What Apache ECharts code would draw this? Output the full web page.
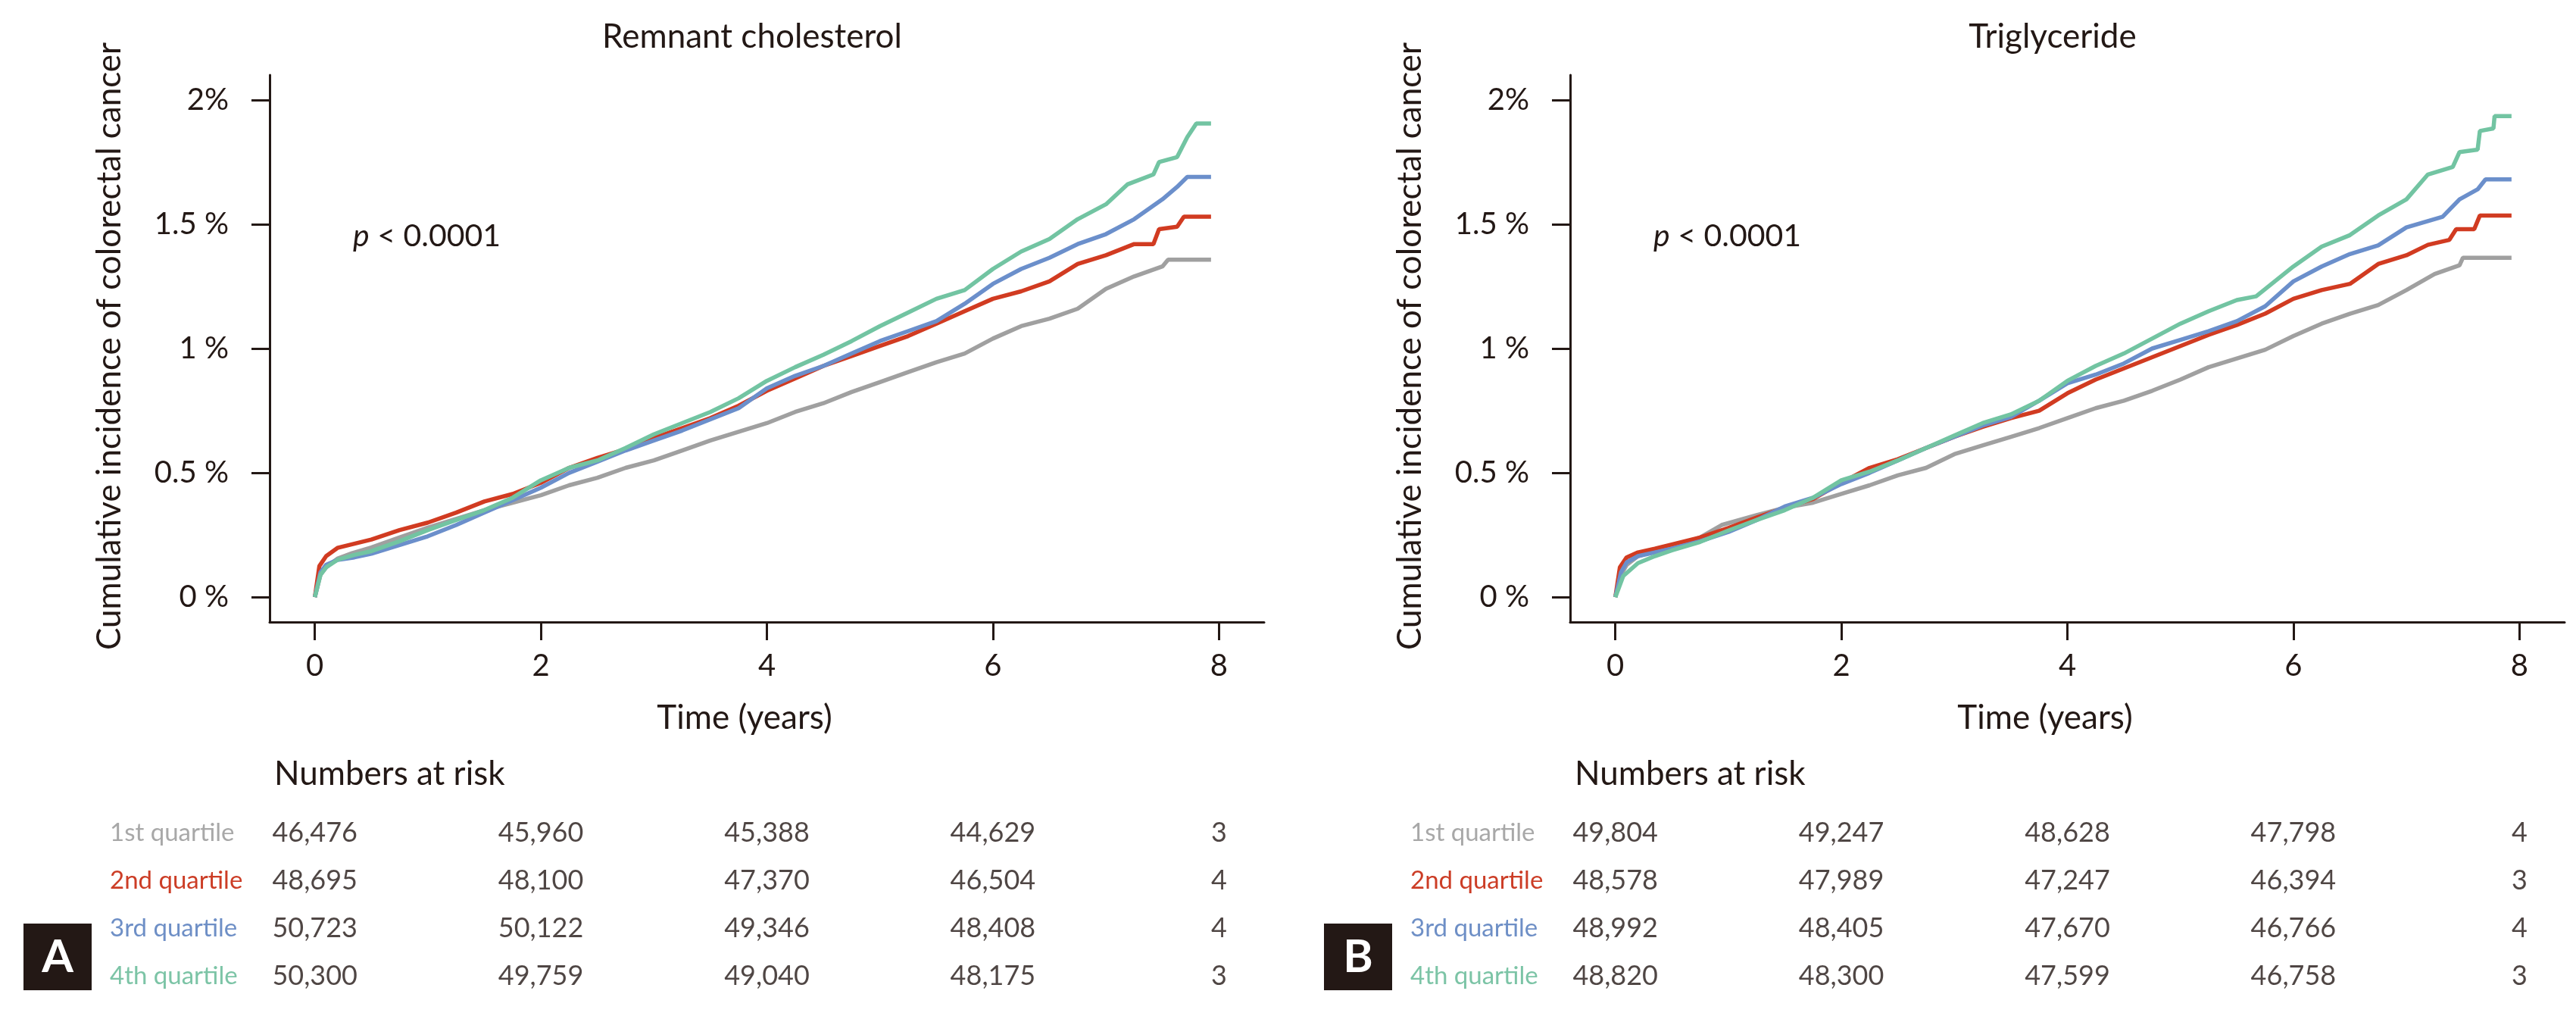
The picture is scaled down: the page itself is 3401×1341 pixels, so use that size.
<!DOCTYPE html>
<html>
<head>
<meta charset="utf-8">
<script src="https://cdn.jsdelivr.net/npm/echarts@6.0.0/dist/echarts.min.js"></script>
<style>
  html, body { margin: 0; padding: 0; background: #fff; }
  #main { width: 3401px; height: 1341px; }
</style>
</head>
<body>
<div id="main"></div>
<script type="text/javascript">
// quartile names, follow-up years of the risk table and axis ticks
var quartiles = ['1st quartile', '2nd quartile', '3rd quartile', '4th quartile'];
var riskTimes = [0, 2, 4, 6, 8];
var yTicks = [0, 0.5, 1, 1.5, 2];
var xTicks = [0, 2, 4, 6, 8];

// cumulative incidence (%) (remnant cholesterol)
var remQ1 = [[0,0],[0.05,0.09],[0.1,0.12],[0.2,0.155],[0.33,0.177],[0.5,0.2],[0.75,0.24],[1,0.28],[1.25,0.315],[1.5,0.35],[1.75,0.38],[2,0.41],[2.25,0.45],[2.5,0.48],[2.75,0.52],[3,0.55],[3.25,0.59],[3.5,0.63],[3.75,0.665],[4,0.7],[4.25,0.745],[4.5,0.78],[4.75,0.825],[5,0.865],[5.25,0.905],[5.5,0.945],[5.75,0.98],[6,1.04],[6.25,1.09],[6.5,1.12],[6.75,1.16],[7,1.24],[7.25,1.29],[7.5,1.33],[7.55,1.357],[7.93,1.357]];
var remQ2 = [[0,0],[0.04,0.125],[0.1,0.165],[0.2,0.198],[0.35,0.215],[0.5,0.232],[0.75,0.27],[1,0.3],[1.25,0.34],[1.5,0.385],[1.75,0.415],[2,0.46],[2.25,0.52],[2.5,0.56],[2.75,0.595],[3,0.64],[3.25,0.68],[3.5,0.72],[3.75,0.77],[4,0.83],[4.25,0.88],[4.5,0.93],[4.75,0.97],[5,1.01],[5.25,1.05],[5.5,1.1],[5.75,1.15],[6,1.2],[6.25,1.23],[6.5,1.27],[6.75,1.34],[7,1.375],[7.25,1.42],[7.42,1.42],[7.47,1.48],[7.63,1.49],[7.69,1.53],[7.93,1.53]];
var remQ3 = [[0,0],[0.05,0.1],[0.1,0.13],[0.2,0.15],[0.35,0.16],[0.5,0.175],[0.75,0.21],[1,0.245],[1.25,0.29],[1.5,0.34],[1.75,0.39],[2,0.44],[2.25,0.5],[2.5,0.545],[2.75,0.59],[3,0.63],[3.25,0.67],[3.5,0.715],[3.75,0.76],[4,0.84],[4.25,0.89],[4.5,0.93],[4.75,0.98],[5,1.03],[5.25,1.07],[5.5,1.11],[5.75,1.18],[6,1.26],[6.25,1.32],[6.5,1.365],[6.75,1.42],[7,1.46],[7.25,1.52],[7.5,1.6],[7.63,1.65],[7.72,1.69],[7.93,1.69]];
var remQ4 = [[0,0],[0.05,0.09],[0.1,0.12],[0.2,0.15],[0.35,0.17],[0.5,0.185],[0.75,0.225],[1,0.27],[1.25,0.31],[1.5,0.35],[1.75,0.4],[2,0.47],[2.25,0.52],[2.5,0.55],[2.75,0.6],[3,0.655],[3.25,0.7],[3.5,0.745],[3.75,0.8],[4,0.87],[4.25,0.925],[4.5,0.975],[4.75,1.03],[5,1.09],[5.25,1.145],[5.5,1.2],[5.75,1.235],[6,1.32],[6.25,1.39],[6.5,1.44],[6.75,1.52],[7,1.58],[7.19,1.66],[7.42,1.7],[7.47,1.75],[7.63,1.77],[7.72,1.85],[7.8,1.905],[7.93,1.905]];

// cumulative incidence (%) (triglyceride)
var triQ1 = [[0,0],[0.05,0.09],[0.1,0.13],[0.2,0.165],[0.35,0.185],[0.5,0.2],[0.75,0.24],[0.94,0.29],[1.25,0.33],[1.5,0.36],[1.75,0.38],[2,0.415],[2.25,0.45],[2.5,0.49],[2.75,0.52],[3,0.575],[3.25,0.61],[3.5,0.645],[3.75,0.68],[4,0.72],[4.25,0.76],[4.5,0.79],[4.75,0.83],[5,0.875],[5.25,0.925],[5.5,0.96],[5.75,0.995],[6,1.05],[6.25,1.1],[6.5,1.14],[6.75,1.175],[7,1.235],[7.25,1.3],[7.47,1.335],[7.5,1.365],[7.93,1.365]];
var triQ2 = [[0,0],[0.04,0.12],[0.1,0.16],[0.2,0.18],[0.35,0.195],[0.5,0.212],[0.75,0.24],[1,0.278],[1.25,0.32],[1.5,0.36],[1.75,0.395],[2,0.46],[2.25,0.52],[2.5,0.555],[2.75,0.6],[3,0.645],[3.25,0.685],[3.5,0.72],[3.75,0.75],[4,0.82],[4.25,0.875],[4.5,0.92],[4.75,0.965],[5,1.01],[5.25,1.055],[5.5,1.095],[5.75,1.14],[6,1.2],[6.25,1.235],[6.5,1.26],[6.75,1.34],[7,1.375],[7.19,1.417],[7.38,1.437],[7.44,1.48],[7.6,1.48],[7.65,1.535],[7.93,1.535]];
var triQ3 = [[0,0],[0.05,0.1],[0.1,0.14],[0.2,0.165],[0.35,0.18],[0.5,0.195],[0.75,0.225],[1,0.262],[1.25,0.31],[1.5,0.365],[1.75,0.4],[2,0.455],[2.25,0.5],[2.5,0.55],[2.75,0.6],[3,0.645],[3.25,0.69],[3.5,0.725],[3.75,0.79],[4,0.86],[4.25,0.895],[4.5,0.94],[4.75,1],[5,1.035],[5.25,1.07],[5.5,1.11],[5.75,1.17],[6,1.27],[6.25,1.33],[6.5,1.38],[6.75,1.415],[7,1.487],[7.32,1.53],[7.47,1.6],[7.63,1.64],[7.7,1.68],[7.93,1.68]];
var triQ4 = [[0,0],[0.07,0.085],[0.2,0.137],[0.35,0.165],[0.5,0.188],[0.75,0.222],[1,0.268],[1.25,0.31],[1.5,0.35],[1.75,0.4],[2,0.47],[2.25,0.505],[2.5,0.55],[2.75,0.6],[3,0.65],[3.25,0.7],[3.5,0.735],[3.75,0.79],[4,0.87],[4.25,0.93],[4.5,0.98],[4.75,1.04],[5,1.1],[5.25,1.15],[5.5,1.195],[5.67,1.21],[6,1.33],[6.25,1.41],[6.5,1.456],[6.75,1.535],[7,1.6],[7.19,1.7],[7.41,1.73],[7.47,1.79],[7.63,1.8],[7.65,1.875],[7.77,1.885],[7.78,1.935],[7.93,1.935]];

// numbers at risk at 0, 2, 4, 6, 8 years
var riskRem = [
  [46476, 45960, 45388, 44629, 3],
  [48695, 48100, 47370, 46504, 4],
  [50723, 50122, 49346, 48408, 4],
  [50300, 49759, 49040, 48175, 3]
];
var riskTri = [
  [49804, 49247, 48628, 47798, 4],
  [48578, 47989, 47247, 46394, 3],
  [48992, 48405, 47670, 46766, 4],
  [48820, 48300, 47599, 46758, 3]
];

var lineColors = ['#a0a0a0', '#d13b21', '#6b8fcb', '#72c4a2'];
var labelColors = ['#a8a8a8', '#cc3d26', '#6e8fc6', '#7cc4a6'];
var ink = '#231815';
var font = 'Lato, "Noto Sans", sans-serif';

var myChart = echarts.init(document.getElementById('main'));

var panels = [
  { dx: 0, title: 'Remnant cholesterol', letter: 'A', curves: [remQ1, remQ2, remQ3, remQ4], risk: riskRem },
  { dx: 1717, title: 'Triglyceride', letter: 'B', curves: [triQ1, triQ2, triQ3, triQ4], risk: riskTri }
];

var grids = [], xAxes = [], yAxes = [], series = [], graphics = [];

panels.forEach(function (p, k) {
  var left = 356 + p.dx;
  // curve grid, then the numbers-at-risk grid under it
  grids.push({ left: left, top: 99, width: 1313, height: 722 });
  grids.push({ left: left, top: 1068, width: 1313, height: 252 });
  var gc = k * 2, gr = k * 2 + 1;

  xAxes.push({
    type: 'value', gridIndex: gc, min: -0.4, max: 8.4,
    axisLine: { show: true, onZero: false, lineStyle: { color: ink, width: 3 } },
    axisTick: { show: true, customValues: xTicks, length: 24, lineStyle: { color: ink, width: 3 } },
    axisLabel: { show: true, customValues: xTicks, margin: 38, fontSize: 40, fontFamily: font, color: ink },
    splitLine: { show: false }
  });
  yAxes.push({
    type: 'value', gridIndex: gc, min: -0.1, max: 2.1,
    axisLine: { show: true, onZero: false, lineStyle: { color: ink, width: 3 } },
    axisTick: { show: true, customValues: yTicks, length: 24, lineStyle: { color: ink, width: 3 } },
    axisLabel: {
      show: true, customValues: yTicks, margin: 54, fontSize: 40, fontFamily: font, color: ink,
      formatter: function (v) { return v === 2 ? '2%' : v + ' %'; }
    },
    splitLine: { show: false }
  });

  xAxes.push({ type: 'value', gridIndex: gr, min: -0.4, max: 8.4, show: false });
  var rich = {};
  labelColors.forEach(function (c, i) {
    rich['q' + i] = { color: c, fontSize: 33, fontFamily: font };
  });
  yAxes.push({
    type: 'category', gridIndex: gr, data: quartiles, inverse: true,
    axisLine: { show: false }, axisTick: { show: false }, splitLine: { show: false },
    axisLabel: {
      align: 'left', margin: 211, rich: rich,
      formatter: function (v) { return '{q' + quartiles.indexOf(v) + '|' + v + '}'; }
    }
  });

  p.curves.forEach(function (c, i) {
    series.push({
      type: 'line', xAxisIndex: gc, yAxisIndex: gc, data: c,
      showSymbol: false, symbol: 'none',
      lineStyle: { color: lineColors[i], width: 5.5 },
      z: 2 + i
    });
  });

  var cells = [];
  p.risk.forEach(function (row, i) {
    row.forEach(function (n, j) { cells.push([riskTimes[j], i, n]); });
  });
  series.push({
    type: 'scatter', xAxisIndex: gr, yAxisIndex: gr, data: cells,
    symbolSize: 1, itemStyle: { color: 'rgba(0,0,0,0)' },
    label: {
      show: true, position: 'inside', fontSize: 36, fontFamily: font, color: ink,
      formatter: function (q) { return q.value[2].toLocaleString('en-US'); }
    }
  });

  var dx = p.dx;
  graphics.push(
    { type: 'text', x: 993 + dx, y: 49, style: { text: p.title, fontSize: 44, fontFamily: font, fill: ink, align: 'center', verticalAlign: 'middle' } },
    { type: 'text', x: 466 + dx, y: 312, style: {
        text: '{i|p} < 0.0001', fontSize: 41, fontFamily: font, fill: ink, align: 'left', verticalAlign: 'middle',
        rich: { i: { fontStyle: 'italic', fontSize: 41, fontFamily: font, fill: ink } }
    } },
    { type: 'text', x: 145 + dx, y: 457, rotation: Math.PI / 2, style: { text: 'Cumulative incidence of colorectal cancer', fontSize: 44, fontFamily: font, fill: ink, align: 'center', verticalAlign: 'middle' } },
    { type: 'text', x: 983 + dx, y: 948, style: { text: 'Time (years)', fontSize: 44, fontFamily: font, fill: ink, align: 'center', verticalAlign: 'middle' } },
    { type: 'text', x: 362 + dx, y: 1022, style: { text: 'Numbers at risk', fontSize: 44, fontFamily: font, fill: ink, align: 'left', verticalAlign: 'middle' } },
    { type: 'rect', shape: { x: 31 + dx, y: 1219, width: 90, height: 88 }, style: { fill: ink } },
    { type: 'text', x: 76 + dx, y: 1264, style: { text: p.letter, fontSize: 60, fontWeight: 'bold', fontFamily: font, fill: '#fff', align: 'center', verticalAlign: 'middle' } }
  );
});

myChart.setOption({
  backgroundColor: '#fff',
  animation: false,
  grid: grids,
  xAxis: xAxes,
  yAxis: yAxes,
  series: series,
  graphic: graphics
});
</script>
</body>
</html>
